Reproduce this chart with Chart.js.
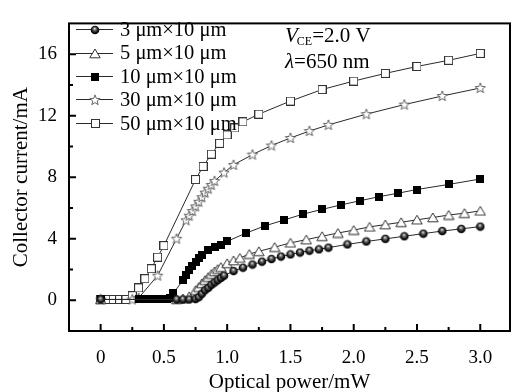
<!DOCTYPE html>
<html>
<head>
<meta charset="utf-8">
<script src="https://cdn.jsdelivr.net/npm/chart.js@4.4.1/dist/chart.umd.min.js"></script>
<style>
html,body{margin:0;padding:0;background:#fff;}
#c{display:block;}
</style>
</head>
<body>
<canvas id="c" width="515" height="392"></canvas>
<script>
// ---- data (optical power in mW, collector current in mA) ----
const seriesNames = ['3 μm×10 μm', '5 μm×10 μm', '10 μm×10 μm', '30 μm×10 μm', '50 μm×10 μm'];

const p3  = [0, 0.6, 0.65, 0.7, 0.75, 0.775, 0.8, 0.825, 0.85, 0.875, 0.9, 0.925, 0.95, 0.975, 1.05, 1.125, 1.2, 1.275, 1.35, 1.425, 1.5, 1.575, 1.65, 1.725, 1.8, 1.95, 2.1, 2.25, 2.4, 2.55, 2.7, 2.85, 3.0];
const i3  = [0.05, 0.05, 0.05, 0.05, 0.08, 0.2, 0.42, 0.65, 0.8, 1.0, 1.15, 1.3, 1.45, 1.6, 1.9, 2.12, 2.32, 2.51, 2.68, 2.84, 2.98, 3.1, 3.22, 3.31, 3.42, 3.63, 3.82, 3.99, 4.16, 4.33, 4.5, 4.64, 4.79];

const p5  = [0, 0.6, 0.65, 0.7, 0.75, 0.775, 0.8, 0.825, 0.85, 0.875, 0.9, 0.925, 0.95, 1.0, 1.05, 1.1, 1.175, 1.25, 1.375, 1.5, 1.625, 1.75, 1.875, 2.0, 2.125, 2.25, 2.375, 2.5, 2.625, 2.75, 2.875, 3.0];
const i5  = [0.05, 0.05, 0.1, 0.25, 0.65, 0.85, 1.1, 1.3, 1.5, 1.7, 1.87, 2.02, 2.15, 2.4, 2.58, 2.75, 3.0, 3.18, 3.45, 3.73, 3.94, 4.16, 4.37, 4.56, 4.77, 4.92, 5.07, 5.23, 5.38, 5.54, 5.66, 5.81];

const p10 = [0, 0.3, 0.325, 0.35, 0.375, 0.4, 0.425, 0.45, 0.475, 0.5, 0.525, 0.55, 0.575, 0.65, 0.675, 0.7, 0.725, 0.75, 0.775, 0.8, 0.85, 0.9, 0.95, 1.0, 1.15, 1.3, 1.45, 1.6, 1.75, 1.9, 2.05, 2.2, 2.35, 2.5, 2.75, 3.0];
const i10 = [0.05, 0.05, 0.05, 0.05, 0.05, 0.05, 0.05, 0.05, 0.05, 0.05, 0.07, 0.12, 0.45, 1.3, 1.65, 1.95, 2.25, 2.5, 2.75, 2.97, 3.25, 3.45, 3.62, 3.83, 4.37, 4.84, 5.22, 5.6, 5.91, 6.2, 6.47, 6.73, 6.96, 7.2, 7.53, 7.88];

const p30 = [0, 0.25, 0.3, 0.45, 0.6, 0.675, 0.7, 0.725, 0.75, 0.775, 0.8, 0.825, 0.85, 0.875, 0.9, 0.975, 1.05, 1.2, 1.35, 1.5, 1.65, 1.8, 2.1, 2.4, 2.7, 3.0];
const i30 = [0.05, 0.05, 0.15, 1.6, 4.0, 5.2, 5.5, 5.8, 6.1, 6.4, 6.7, 7.0, 7.25, 7.5, 7.75, 8.3, 8.8, 9.47, 10.06, 10.55, 11.0, 11.4, 12.1, 12.72, 13.28, 13.8];

const p50 = [0, 0.05, 0.1, 0.15, 0.2, 0.25, 0.3, 0.35, 0.4, 0.45, 0.5, 0.75, 0.81, 0.875, 0.94, 1.0, 1.06, 1.125, 1.25, 1.5, 1.75, 2.0, 2.25, 2.5, 2.75, 3.0];
const i50 = [0.05, 0.05, 0.05, 0.05, 0.05, 0.3, 0.8, 1.4, 2.05, 2.8, 3.55, 7.85, 8.7, 9.5, 10.2, 10.75, 11.2, 11.6, 12.1, 12.95, 13.7, 14.25, 14.75, 15.2, 15.6, 16.05];

const xMajor = [0, 0.5, 1.0, 1.5, 2.0, 2.5, 3.0];
const xTickLabels = ['0', '0.5', '1.0', '1.5', '2.0', '2.5', '3.0'];
const xMinor = [0.25, 0.75, 1.25, 1.75, 2.25, 2.75];
const yMajor = [0, 4, 8, 12, 16];
const yTickLabels = ['0', '4', '8', '12', '16'];
const yMinor = [2, 6, 10, 14];

const xTitle = 'Optical power/mW';
const yTitle = 'Collector current/mA';

// ---- marker images ----
function mk(w, h, fn) {
  const c = document.createElement('canvas');
  c.width = w; c.height = h;
  fn(c.getContext('2d'));
  return c;
}
const ballImg = mk(10, 10, ctx => {
  const g = ctx.createRadialGradient(4.6, 3.4, 0.2, 5, 5, 4.6);
  g.addColorStop(0, '#e8e8e8');
  g.addColorStop(0.3, '#6a6a6a');
  g.addColorStop(0.7, '#111');
  g.addColorStop(1, '#000');
  ctx.fillStyle = g;
  ctx.beginPath(); ctx.arc(5, 5, 4.3, 0, Math.PI * 2); ctx.fill();
});
const triImg = mk(12, 11, ctx => {
  ctx.beginPath();
  ctx.moveTo(6, 1); ctx.lineTo(11.2, 9.8); ctx.lineTo(0.8, 9.8); ctx.closePath();
  ctx.fillStyle = '#fff'; ctx.fill();
  ctx.strokeStyle = '#333'; ctx.lineWidth = 1; ctx.stroke();
});
const fsqImg = mk(8, 8, ctx => {
  ctx.fillStyle = '#000'; ctx.fillRect(0, 0, 8, 8);
});
const starImg = mk(12, 12, ctx => {
  ctx.beginPath();
  for (let k = 0; k < 10; k++) {
    const r = k % 2 === 0 ? 5.4 : 2.3;
    const a = -Math.PI / 2 + k * Math.PI / 5;
    const px = 6 + r * Math.cos(a), py = 6.3 + r * Math.sin(a);
    if (k === 0) ctx.moveTo(px, py); else ctx.lineTo(px, py);
  }
  ctx.closePath();
  ctx.fillStyle = '#fff'; ctx.fill();
  ctx.strokeStyle = '#555'; ctx.lineWidth = 0.9; ctx.stroke();
});
const osqImg = mk(9, 9, ctx => {
  ctx.fillStyle = '#fff'; ctx.fillRect(0.5, 0.5, 8, 8);
  ctx.strokeStyle = '#333'; ctx.lineWidth = 1; ctx.strokeRect(0.5, 0.5, 8, 8);
});
const markers = [ballImg, triImg, fsqImg, starImg, osqImg];

function pts(xs, ys) { return xs.map((x, k) => ({ x: x, y: ys[k] })); }
const allX = [p3, p5, p10, p30, p50];
const allY = [i3, i5, i10, i30, i50];

const datasets = seriesNames.map((name, k) => ({
  label: name,
  data: pts(allX[k], allY[k]),
  showLine: true,
  borderColor: '#2a2a2a',
  borderWidth: 1,
  pointStyle: markers[k],
  pointRadius: 4,
  tension: 0
}));

const FONT = "'Liberation Serif', 'Times New Roman', serif";

// ---- frame, inward ticks, legend, annotation ----
const decor = {
  id: 'decor',
  afterDraw(chart) {
    const ctx = chart.ctx;
    const a = chart.chartArea;
    const xs = chart.scales.x, ys = chart.scales.y;
    ctx.save();
    ctx.strokeStyle = '#000';
    ctx.lineWidth = 2;
    ctx.strokeRect(a.left, a.top, a.right - a.left, a.bottom - a.top);
    ctx.lineWidth = 2;
    ctx.beginPath();
    xMajor.forEach(v => { const px = xs.getPixelForValue(v); ctx.moveTo(px, a.bottom); ctx.lineTo(px, a.bottom - 7); });
    xMinor.forEach(v => { const px = xs.getPixelForValue(v); ctx.moveTo(px, a.bottom); ctx.lineTo(px, a.bottom - 4); });
    yMajor.forEach(v => { const py = ys.getPixelForValue(v); ctx.moveTo(a.left, py); ctx.lineTo(a.left + 7, py); });
    yMinor.forEach(v => { const py = ys.getPixelForValue(v); ctx.moveTo(a.left, py); ctx.lineTo(a.left + 4, py); });
    ctx.stroke();

    // legend
    ctx.font = '20.5px ' + FONT;
    ctx.fillStyle = '#000';
    ctx.textBaseline = 'alphabetic';
    ctx.textAlign = 'left';
    chart.data.datasets.forEach((ds, k) => {
      const cy = 29.3 + k * 23.35;
      ctx.strokeStyle = '#2a2a2a';
      ctx.lineWidth = 1;
      ctx.beginPath();
      ctx.moveTo(76, Math.round(cy) + 0.5); ctx.lineTo(113, Math.round(cy) + 0.5);
      ctx.stroke();
      const img = ds.pointStyle;
      ctx.drawImage(img, Math.round(95 - img.width / 2), Math.round(cy - img.height / 2 + 0.5));
      ctx.fillText(ds.label, 120, cy + 6.8);
    });

    // annotation
    let x0 = 285;
    ctx.font = 'italic 21px ' + FONT;
    ctx.fillText('V', x0, 41.7);
    let w = ctx.measureText('V').width;
    ctx.font = '12px ' + FONT;
    ctx.fillText('CE', x0 + w - 1, 44.5);
    w += ctx.measureText('CE').width - 1;
    ctx.font = '21px ' + FONT;
    ctx.fillText('=2.0 V', x0 + w, 41.7);

    ctx.font = 'italic 21px ' + FONT;
    ctx.fillText('λ', x0, 67.7);
    w = ctx.measureText('λ').width;
    ctx.font = '21px ' + FONT;
    ctx.fillText('=650 nm', x0 + w, 67.7);
    ctx.restore();
  }
};

new Chart(document.getElementById('c'), {
  type: 'scatter',
  data: { datasets: datasets },
  options: {
    responsive: false,
    animation: false,
    devicePixelRatio: 1,
    layout: { padding: { top: 13, right: 2, left: 0, bottom: 0 } },
    plugins: { legend: { display: false }, tooltip: { enabled: false } },
    scales: {
      x: {
        type: 'linear',
        min: -0.25, max: 3.235,
        afterBuildTicks: s => { s.ticks = xMajor.map(v => ({ value: v })); },
        afterFit: s => { s.height = 61; },
        grid: { display: false, drawTicks: false },
        border: { display: false },
        ticks: {
          autoSkip: false, maxRotation: 0, padding: 16,
          color: '#000',
          font: { family: FONT, size: 19 },
          callback: v => { const k = xMajor.indexOf(v); return k >= 0 ? xTickLabels[k] : ''; }
        },
        title: { display: true, text: xTitle, color: '#000', font: { family: FONT, size: 21, lineHeight: 0.95 }, padding: { top: 0, bottom: 0 } }
      },
      y: {
        type: 'linear',
        min: -2, max: 18,
        afterBuildTicks: s => { s.ticks = yMajor.map(v => ({ value: v })); },
        afterFit: s => { s.width = 69; },
        grid: { display: false, drawTicks: false },
        border: { display: false },
        ticks: {
          autoSkip: false, padding: 12,
          color: '#000',
          font: { family: FONT, size: 19 },
          callback: v => { const k = yMajor.indexOf(v); return k >= 0 ? yTickLabels[k] : ''; }
        },
        title: { display: true, text: yTitle, color: '#000', font: { family: FONT, size: 21, lineHeight: 1 }, padding: { top: 11, bottom: 0 } }
      }
    }
  },
  plugins: [decor]
});
</script>
</body>
</html>
